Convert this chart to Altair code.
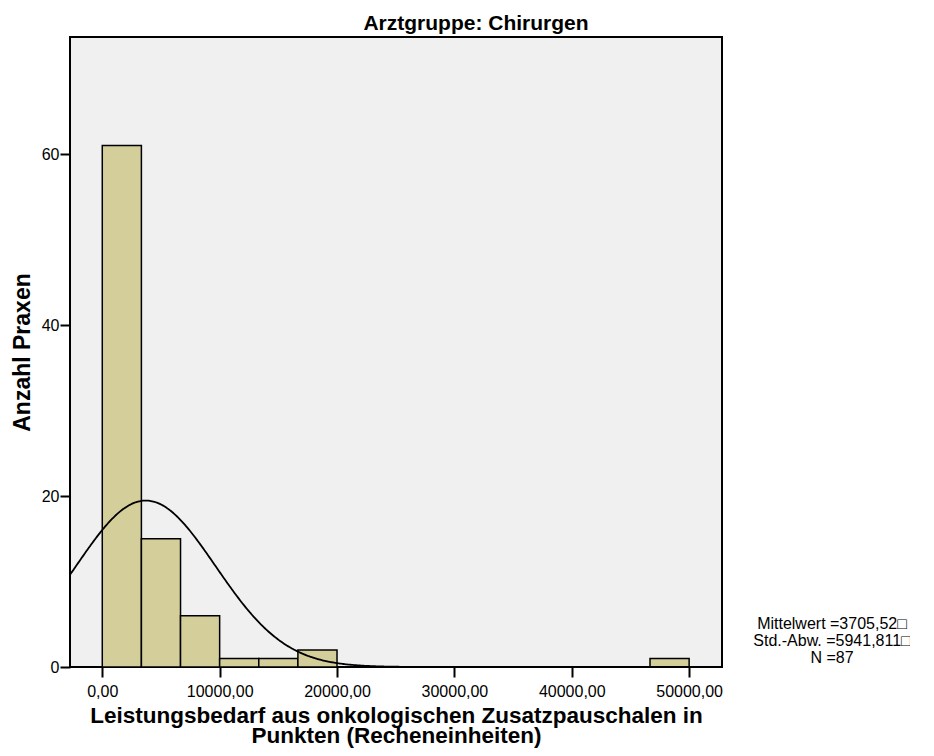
import altair as alt
import pandas as pd

# ---- data ----
bin_start = [0.0, 3333.33, 6666.67, 10000.0, 13333.33, 16666.67, 20000.0, 23333.33,
             26666.67, 30000.0, 33333.33, 36666.67, 40000.0, 43333.33, 46666.67]
bin_end = [3333.33, 6666.67, 10000.0, 13333.33, 16666.67, 20000.0, 23333.33, 26666.67,
           30000.0, 33333.33, 36666.67, 40000.0, 43333.33, 46666.67, 50000.0]
counts = [61, 15, 6, 1, 1, 2, 0, 0, 0, 0, 0, 0, 0, 0, 1]

mean_val = 3705.52
sd_val = 5941.811
n_val = 87
bin_width = 3333.333

x_ticks = [0, 10000, 20000, 30000, 40000, 50000]
y_ticks = [0, 20, 40, 60]
x_domain = [-2750, 52800]
y_domain = [0, 73.7]

stats_lines = ["Mittelwert =3705,52\u25a1", "Std.-Abw. =5941,811\u25a1", "N =87"]

FONT = "Liberation Sans"

bars_df = pd.DataFrame({"start": bin_start, "end": bin_end, "count": counts})
bars_df = bars_df[bars_df["count"] > 0]

xscale = alt.Scale(domain=x_domain, nice=False, zero=False)
yscale = alt.Scale(domain=y_domain, nice=False)

xaxis = alt.Axis(
    values=x_ticks,
    labelExpr="replace(format(datum.value, '.2f'), '.', ',')",
    title=["Leistungsbedarf aus onkologischen Zusatzpauschalen in", "Punkten (Recheneinheiten)"],
    titleFont=FONT, titleFontSize=22.5, titleFontWeight="bold", titleColor="black",
    titleLineHeight=20, titlePadding=5,
    labelFont=FONT, labelFontSize=16, labelColor="black", labelPadding=6,
    tickColor="black", tickWidth=2, tickSize=10, domain=False, grid=False,
)
yaxis = alt.Axis(
    values=y_ticks,
    title="Anzahl Praxen",
    titleFont=FONT, titleFontSize=23, titleFontWeight="bold", titleColor="black",
    titlePadding=7,
    labelFont=FONT, labelFontSize=16, labelColor="black", labelPadding=1,
    tickColor="black", tickWidth=2, tickSize=10, domain=False, grid=False,
)

bars = alt.Chart(bars_df).mark_rect(
    fill="#d3ce9a", stroke="black", strokeWidth=1.5
).encode(
    x=alt.X("start:Q", scale=xscale, axis=xaxis),
    x2="end:Q",
    y=alt.Y("count:Q", scale=yscale, axis=yaxis),
    y2=alt.datum(0),
)

curve = alt.Chart(
    alt.sequence(start=x_domain[0], stop=x_domain[1], step=100, as_="xv")
).transform_calculate(
    dens=f"{n_val}*{bin_width}/({sd_val}*sqrt(2*PI))*exp(-0.5*pow((datum.xv-{mean_val})/{sd_val},2))"
).mark_line(color="black", strokeWidth=1.8, clip=True).encode(
    x=alt.X("xv:Q", scale=xscale),
    y=alt.Y("dens:Q", scale=yscale),
)

stats = alt.Chart(pd.DataFrame({"a": [0]})).mark_text(
    font=FONT, fontSize=16, color="black", align="center", baseline="middle",
    lineHeight=17, clip=False,
).encode(
    x=alt.value(762),
    y=alt.value(587),
    text=alt.value(stats_lines),
)

chart = alt.layer(bars, curve, stats).properties(
    width=652, height=630,
    title=alt.TitleParams(
        "Arztgruppe: Chirurgen", font=FONT, fontSize=21, fontWeight="bold",
        color="black", anchor="middle", offset=3, dx=80,
    ),
    padding={"left": 62, "top": 29, "right": 188, "bottom": 81},
    autosize=alt.AutoSizeParams(type="none"),
    background="white",
).configure_view(
    fill="#f0f0f0", stroke="black", strokeWidth=2
)

chart.save("out.html", embed_options={"renderer": "svg", "actions": False})
